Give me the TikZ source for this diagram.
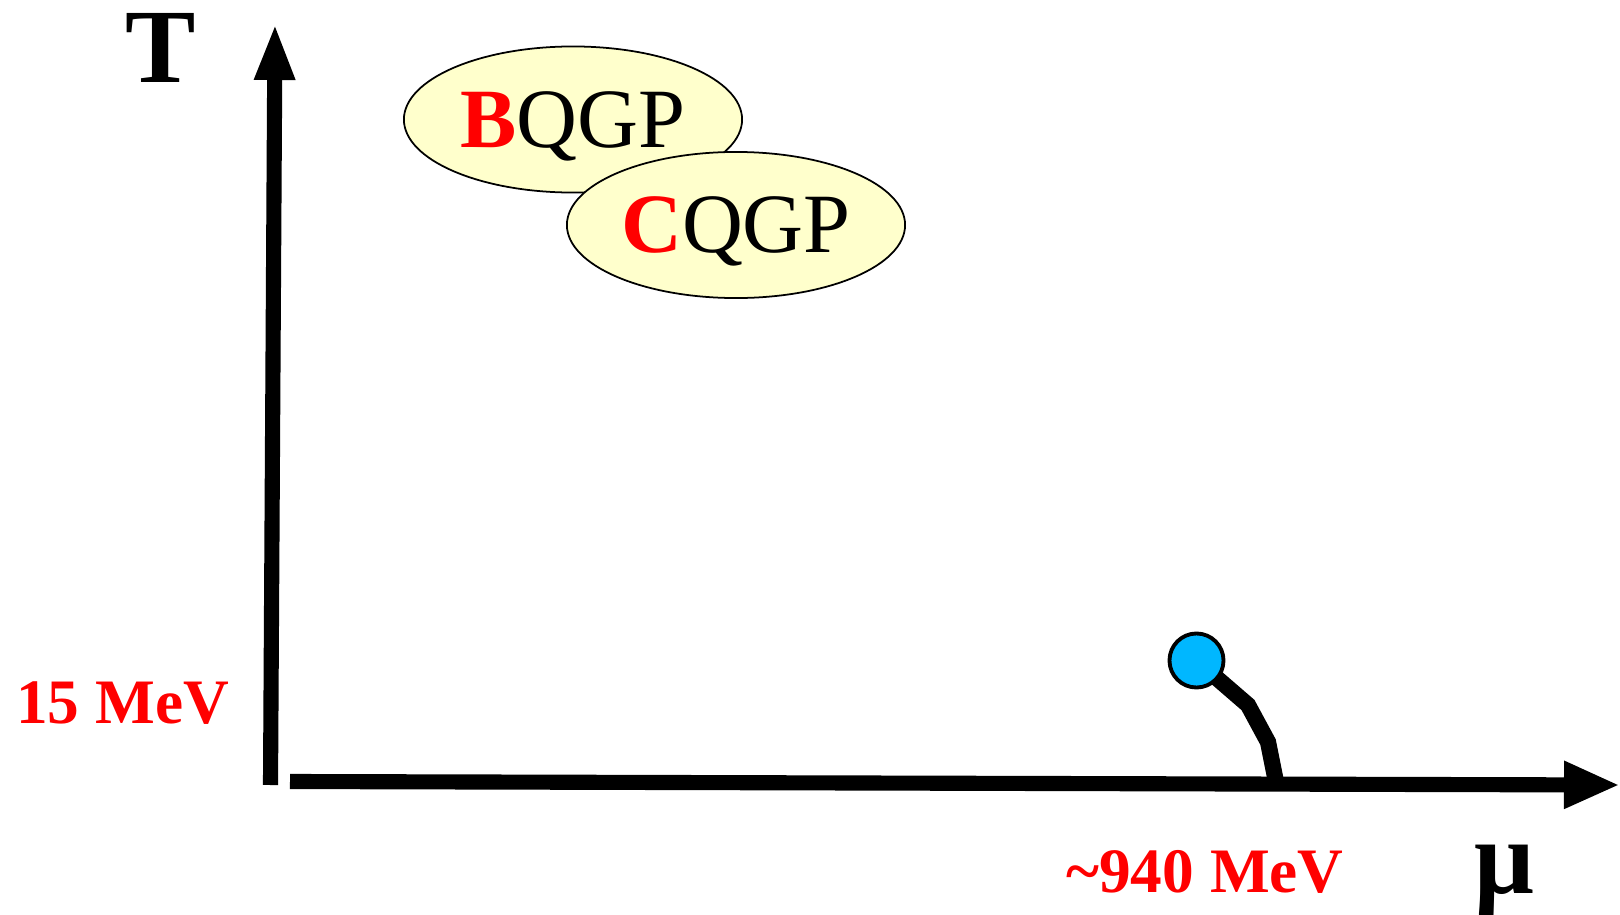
\documentclass[tikz,border=0pt]{standalone}
\usepackage{fontspec}
\setmainfont{Liberation Serif}
\usetikzlibrary{arrows.meta,shapes.geometric}
\definecolor{bubblefill}{RGB}{255,255,204}
\definecolor{dotblue}{RGB}{0,183,255}
\tikzset{
  axis/.style={line width=4.3pt, line cap=butt},
  bubble/.style={ellipse, draw, line width=0.5pt, fill=bubblefill,
    minimum width=3.38cm, minimum height=1.46cm, inner sep=0pt,
    text height=15.9pt, text depth=0pt, font=\fontsize{24}{28}\selectfont},
  energy/.style={anchor=base, inner sep=0pt, text=red,
    font=\fontsize{18}{22}\selectfont\bfseries},
  axlabel/.style={anchor=base, inner sep=0pt,
    font=\fontsize{30}{36}\selectfont\bfseries}
}

\begin{document}
\begin{tikzpicture}[x=0.01cm, y=-0.01cm]
  \useasboundingbox (0,0) rectangle (1620,915);
  \coordinate (Tlow) at (270.5,785);
  \coordinate (Ttop) at (275,23);
  \coordinate (mulow) at (290,781.5);
  \coordinate (mutop) at (1620,785);
  \coordinate (cpc) at (1196.5,660.5);
  \coordinate (k1) at (1248,705);
  \coordinate (k2) at (1268,742);
  \coordinate (foot) at (1276,782);
  \draw[line width=4.6pt, line join=miter] (cpc) -- (k1) -- (k2) -- (foot);
  \draw[axis, -{Triangle[length=0.57cm, width=0.37cm]}] (Tlow) -- (Ttop);
  \draw[axis, -{Triangle[length=0.56cm, width=0.44cm]}] (mulow) -- (mutop);
  \node[draw, circle, fill=dotblue, line width=1.1pt, minimum size=0.54cm,
    inner sep=0pt] (cp) at (cpc) {};
  \node[axlabel] (T) at (161,82) {T};
  \node[axlabel] (mu) at (1504,893) {μ};
  \node[energy] (tc) at (122.5,723) {15 MeV};
  \node[energy] (mc) at (1205,892) {\textasciitilde940 MeV};
  \node[bubble] (bqgp) at (573,119.5) {\textcolor{red}{\bfseries B}QGP};
  \node[bubble] (cqgp) at (736,225) {\textcolor{red}{\bfseries C}QGP};
\end{tikzpicture}
\end{document}
